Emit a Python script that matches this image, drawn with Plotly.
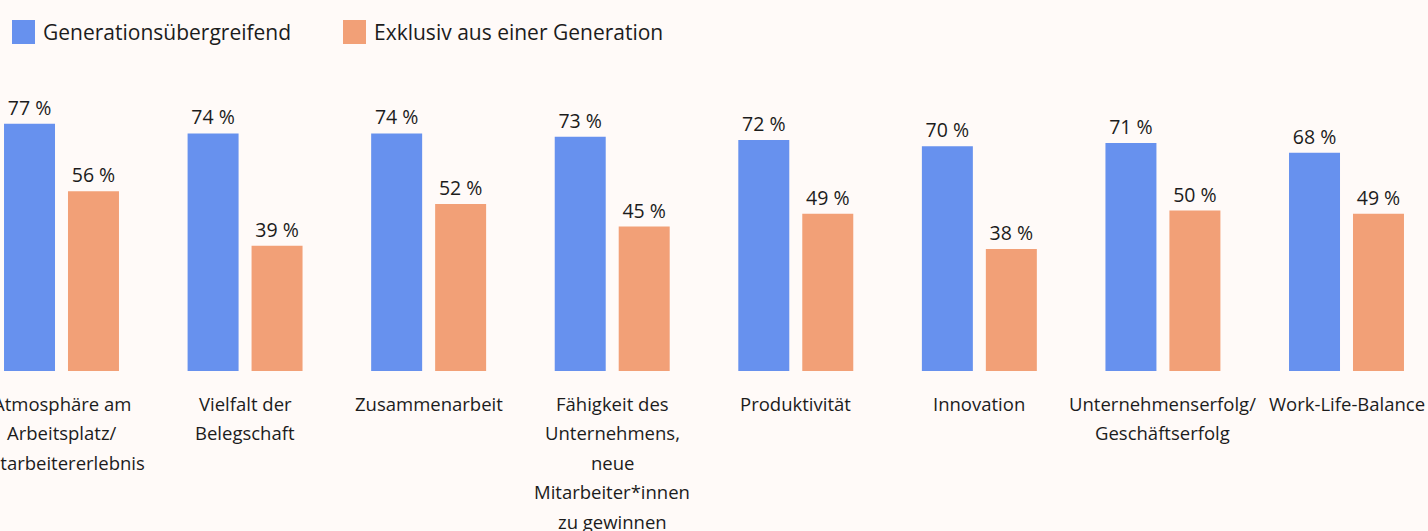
import plotly.graph_objects as go

categories = [
    "Atmosphäre am<br>Arbeitsplatz/<br>Mitarbeitererlebnis",
    "Vielfalt der<br>Belegschaft",
    "Zusammenarbeit",
    "Fähigkeit des<br>Unternehmens,<br>neue<br>Mitarbeiter*innen<br>zu gewinnen",
    "Produktivität",
    "Innovation",
    "Unternehmenserfolg/<br>Geschäftserfolg",
    "Work-Life-Balance",
]
series_names = ["Generationsübergreifend", "Exklusiv aus einer Generation"]
generationsuebergreifend = [77, 74, 74, 73, 72, 70, 71, 68]
exklusiv = [56, 39, 52, 45, 49, 38, 50, 49]

BLUE = "#6791ee"
ORANGE = "#f2a077"
BG = "#fffaf8"
TEXT = "#1c1c1c"
FONT = "Open Sans"

W, H = 1428, 531
MT, MB = 50, 160
plot_h = H - MT - MB
base_px = H - MB

xs = list(range(len(categories)))

fig = go.Figure()
for name, vals, col in [(series_names[0], generationsuebergreifend, BLUE),
                        (series_names[1], exklusiv, ORANGE)]:
    fig.add_trace(go.Bar(
        x=xs, y=vals, name=name, marker=dict(color=col, line=dict(width=0)),
        texttemplate="%{y} %", textposition="outside",
        textfont=dict(family=FONT, size=19.5, color=TEXT),
        cliponaxis=False, showlegend=False, hoverinfo="skip",
    ))

annotations = []
# category labels, one annotation per line
for i, cat in enumerate(categories):
    for j, line in enumerate(cat.split("<br>")):
        annotations.append(dict(
            x=i, y=0, xref="x", yref="y", text=line, showarrow=False,
            xanchor="center", yanchor="middle", yshift=-(32 + 29.5 * j),
            font=dict(family=FONT, size=18.5, color=TEXT),
        ))

# manual legend
shapes = []
leg_items = [(12, BLUE, series_names[0]), (343, ORANGE, series_names[1])]
for x0, col, name in leg_items:
    shapes.append(dict(type="rect", xref="paper", yref="paper",
                       x0=x0 / W, x1=(x0 + 23) / W,
                       y0=(base_px - 44) / plot_h, y1=(base_px - 20) / plot_h,
                       fillcolor=col, line=dict(width=0)))
    annotations.append(dict(
        x=(x0 + 29) / W, y=(base_px - 32) / plot_h, xref="paper", yref="paper",
        text=name, showarrow=False, xanchor="left", yanchor="middle",
        font=dict(family=FONT, size=21, color=TEXT),
    ))

unit = (1346.5 - 61.5) / 7
fig.update_layout(
    width=W, height=H,
    margin=dict(l=0, r=0, t=MT, b=MB, pad=0),
    paper_bgcolor=BG, plot_bgcolor=BG,
    barmode="group", bargap=0.303, bargroupgap=0.203,
    xaxis=dict(range=[-61.5 / unit, (W - 61.5) / unit], showticklabels=False,
               showgrid=False, zeroline=False, showline=False, ticks=""),
    yaxis=dict(range=[0, 100], visible=False, showgrid=False, zeroline=False),
    annotations=annotations, shapes=shapes,
    font=dict(family=FONT, color=TEXT),
)

fig.write_html(
    "out.html",
    config={"displayModeBar": False},
    post_script="document.body.style.margin='0';document.body.style.overflow='hidden';",
)
